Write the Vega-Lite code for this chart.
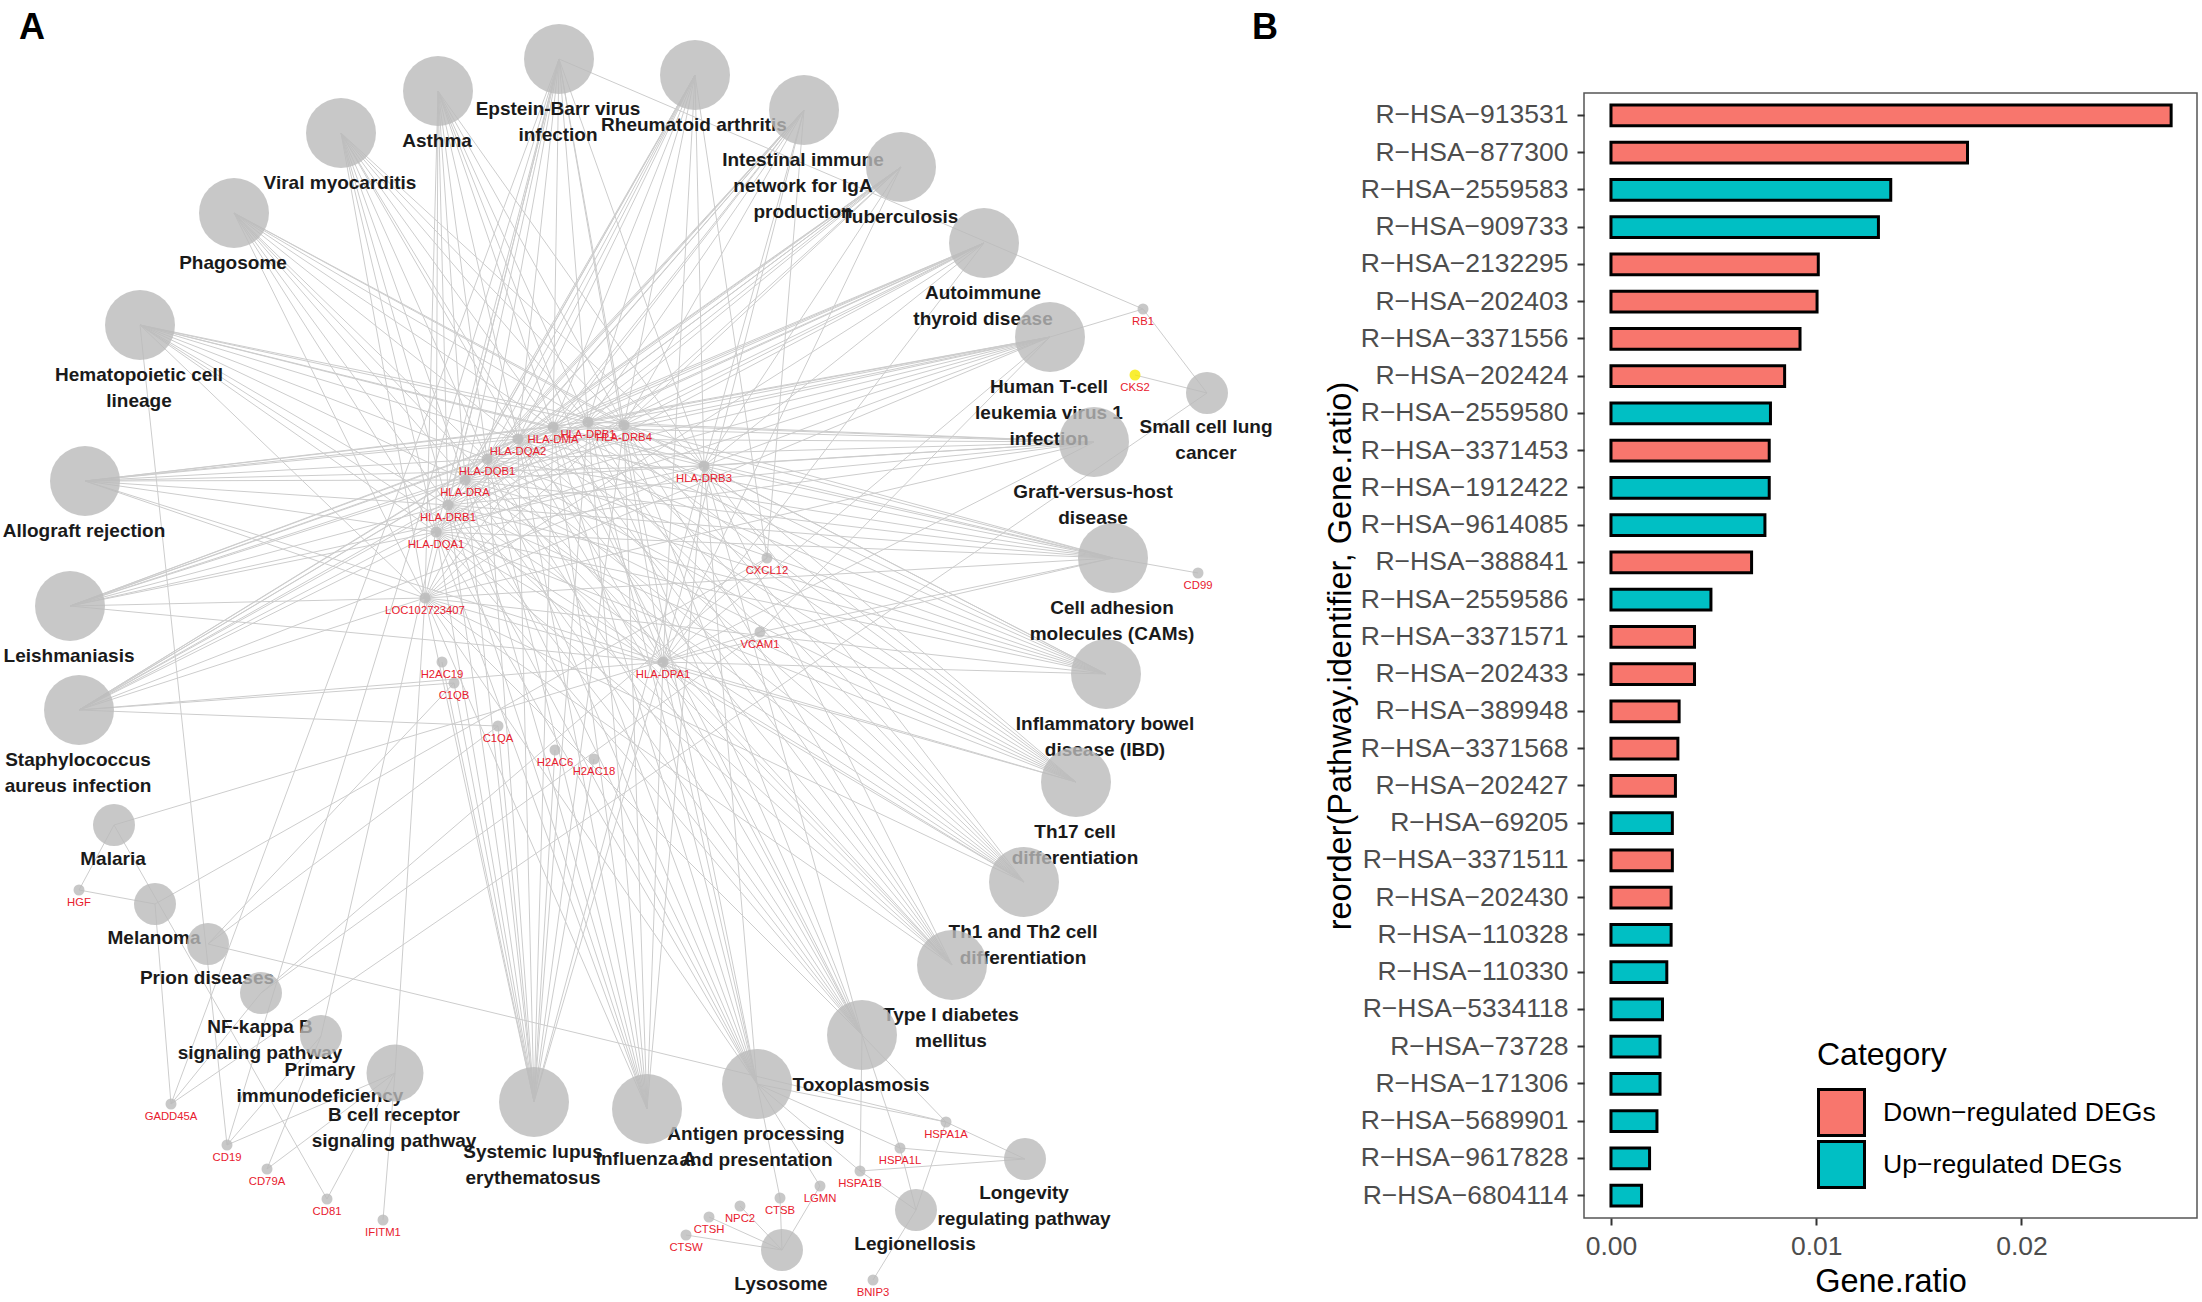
{"$schema":"https://vega.github.io/schema/vega-lite/v6.json","padding":0,"background":"white","bounds":"flush","spacing":334,
"config":{"font":"Liberation Sans","view":{"stroke":null}},
"datasets":{
"nodes":[
{"id":"EBV","label":"Epstein-Barr virus\ninfection","x":559,"y":59,"kind":"big","state":"n"},
{"id":"RA","label":"Rheumatoid arthritis","x":695,"y":75,"kind":"big","state":"n"},
{"id":"Asthma","label":"Asthma","x":438,"y":91,"kind":"big","state":"n"},
{"id":"IgA","label":"Intestinal immune\nnetwork for IgA\nproduction","x":804,"y":110,"kind":"big","state":"n"},
{"id":"Viral","label":"Viral myocarditis","x":341,"y":133,"kind":"big","state":"n"},
{"id":"TB","label":"Tuberculosis","x":901,"y":167,"kind":"big","state":"n"},
{"id":"Phago","label":"Phagosome","x":234,"y":213,"kind":"big","state":"n"},
{"id":"AITD","label":"Autoimmune\nthyroid disease","x":984,"y":243,"kind":"big","state":"n"},
{"id":"Hema","label":"Hematopoietic cell\nlineage","x":140,"y":325,"kind":"big","state":"n"},
{"id":"HTLV","label":"Human T-cell\nleukemia virus 1\ninfection","x":1050,"y":337,"kind":"big","state":"n"},
{"id":"SCLC","label":"Small cell lung\ncancer","x":1207,"y":393,"kind":"small","state":"n"},
{"id":"GVHD","label":"Graft-versus-host\ndisease","x":1094,"y":442,"kind":"big","state":"n"},
{"id":"Allo","label":"Allograft rejection","x":85,"y":481,"kind":"big","state":"n"},
{"id":"CAM","label":"Cell adhesion\nmolecules (CAMs)","x":1113,"y":558,"kind":"big","state":"n"},
{"id":"Leish","label":"Leishmaniasis","x":70,"y":606,"kind":"big","state":"n"},
{"id":"Staph","label":"Staphylococcus\naureus infection","x":79,"y":710,"kind":"big","state":"n"},
{"id":"IBD","label":"Inflammatory bowel\ndisease (IBD)","x":1106,"y":674,"kind":"big","state":"n"},
{"id":"Th17","label":"Th17 cell\ndifferentiation","x":1076,"y":782,"kind":"big","state":"n"},
{"id":"Th1","label":"Th1 and Th2 cell\ndifferentiation","x":1024,"y":882,"kind":"big","state":"n"},
{"id":"T1D","label":"Type I diabetes\nmellitus","x":952,"y":965,"kind":"big","state":"n"},
{"id":"Toxo","label":"Toxoplasmosis","x":862,"y":1035,"kind":"big","state":"n"},
{"id":"APP","label":"Antigen processing\nand presentation","x":757,"y":1084,"kind":"big","state":"n"},
{"id":"Flu","label":"Influenza A","x":647,"y":1109,"kind":"big","state":"n"},
{"id":"SLE","label":"Systemic lupus\nerythematosus","x":534,"y":1102,"kind":"big","state":"n"},
{"id":"BCR","label":"B cell receptor\nsignaling pathway","x":395,"y":1073,"kind":"mid","state":"n"},
{"id":"PID","label":"Primary\nimmunodeficiency","x":321,"y":1036,"kind":"small","state":"n"},
{"id":"NFkB","label":"NF-kappa B\nsignaling pathway","x":261,"y":993,"kind":"small","state":"n"},
{"id":"Prion","label":"Prion diseases","x":208,"y":944,"kind":"small","state":"n"},
{"id":"Melanoma","label":"Melanoma","x":155,"y":904,"kind":"small","state":"n"},
{"id":"Malaria","label":"Malaria","x":114,"y":825,"kind":"small","state":"n"},
{"id":"Longevity","label":"Longevity\nregulating pathway","x":1025,"y":1159,"kind":"small","state":"n"},
{"id":"Legion","label":"Legionellosis","x":916,"y":1210,"kind":"small","state":"n"},
{"id":"Lyso","label":"Lysosome","x":782,"y":1250,"kind":"small","state":"n"},
{"id":"HLA-DPB1","label":"HLA-DPB1","x":588,"y":422,"kind":"gene","state":"n"},
{"id":"HLA-DRB4","label":"HLA-DRB4","x":624,"y":425,"kind":"gene","state":"n"},
{"id":"HLA-DMA","label":"HLA-DMA","x":553,"y":427,"kind":"gene","state":"n"},
{"id":"HLA-DQA2","label":"HLA-DQA2","x":518,"y":439,"kind":"gene","state":"n"},
{"id":"HLA-DQB1","label":"HLA-DQB1","x":487,"y":459,"kind":"gene","state":"n"},
{"id":"HLA-DRA","label":"HLA-DRA","x":465,"y":480,"kind":"gene","state":"n"},
{"id":"HLA-DRB1","label":"HLA-DRB1","x":448,"y":505,"kind":"gene","state":"n"},
{"id":"HLA-DQA1","label":"HLA-DQA1","x":436,"y":532,"kind":"gene","state":"n"},
{"id":"HLA-DRB3","label":"HLA-DRB3","x":704,"y":466,"kind":"gene","state":"n"},
{"id":"CXCL12","label":"CXCL12","x":767,"y":558,"kind":"gene","state":"n"},
{"id":"LOC102723407","label":"LOC102723407","x":425,"y":598,"kind":"gene","state":"n"},
{"id":"VCAM1","label":"VCAM1","x":760,"y":632,"kind":"gene","state":"n"},
{"id":"HLA-DPA1","label":"HLA-DPA1","x":663,"y":662,"kind":"gene","state":"n"},
{"id":"H2AC19","label":"H2AC19","x":442,"y":662,"kind":"gene","state":"n"},
{"id":"C1QB","label":"C1QB","x":454,"y":683,"kind":"gene","state":"n"},
{"id":"C1QA","label":"C1QA","x":498,"y":726,"kind":"gene","state":"n"},
{"id":"H2AC6","label":"H2AC6","x":555,"y":750,"kind":"gene","state":"n"},
{"id":"H2AC18","label":"H2AC18","x":594,"y":759,"kind":"gene","state":"n"},
{"id":"RB1","label":"RB1","x":1143,"y":309,"kind":"gene","state":"n"},
{"id":"CKS2","label":"CKS2","x":1135,"y":375,"kind":"gene","state":"h"},
{"id":"CD99","label":"CD99","x":1198,"y":573,"kind":"gene","state":"n"},
{"id":"HGF","label":"HGF","x":79,"y":890,"kind":"gene","state":"n"},
{"id":"GADD45A","label":"GADD45A","x":171,"y":1104,"kind":"gene","state":"n"},
{"id":"CD19","label":"CD19","x":227,"y":1145,"kind":"gene","state":"n"},
{"id":"CD79A","label":"CD79A","x":267,"y":1169,"kind":"gene","state":"n"},
{"id":"CD81","label":"CD81","x":327,"y":1199,"kind":"gene","state":"n"},
{"id":"IFITM1","label":"IFITM1","x":383,"y":1220,"kind":"gene","state":"n"},
{"id":"HSPA1A","label":"HSPA1A","x":946,"y":1122,"kind":"gene","state":"n"},
{"id":"HSPA1L","label":"HSPA1L","x":900,"y":1148,"kind":"gene","state":"n"},
{"id":"HSPA1B","label":"HSPA1B","x":860,"y":1171,"kind":"gene","state":"n"},
{"id":"LGMN","label":"LGMN","x":820,"y":1186,"kind":"gene","state":"n"},
{"id":"CTSB","label":"CTSB","x":780,"y":1198,"kind":"gene","state":"n"},
{"id":"NPC2","label":"NPC2","x":740,"y":1206,"kind":"gene","state":"n"},
{"id":"CTSH","label":"CTSH","x":709,"y":1217,"kind":"gene","state":"n"},
{"id":"CTSW","label":"CTSW","x":686,"y":1235,"kind":"gene","state":"n"},
{"id":"BNIP3","label":"BNIP3","x":873,"y":1280,"kind":"gene","state":"n"}
],
"edges":[
{"p":"EBV","g":["HLA-DMA","HLA-DPA1","HLA-DPB1","HLA-DQA1","HLA-DQA2","HLA-DQB1","HLA-DRA","HLA-DRB1","HLA-DRB3","HLA-DRB4","LOC102723407","RB1","GADD45A","CD19"]},
{"p":"RA","g":["HLA-DMA","HLA-DPA1","HLA-DPB1","HLA-DQA1","HLA-DQA2","HLA-DQB1","HLA-DRA","HLA-DRB1","HLA-DRB3","HLA-DRB4","LOC102723407","CXCL12"]},
{"p":"Asthma","g":["HLA-DMA","HLA-DPA1","HLA-DPB1","HLA-DQA1","HLA-DQA2","HLA-DQB1","HLA-DRA","HLA-DRB1","HLA-DRB3","HLA-DRB4","LOC102723407"]},
{"p":"IgA","g":["HLA-DMA","HLA-DPA1","HLA-DPB1","HLA-DQA1","HLA-DQA2","HLA-DQB1","HLA-DRA","HLA-DRB1","HLA-DRB3","HLA-DRB4","LOC102723407","CXCL12"]},
{"p":"Viral","g":["HLA-DMA","HLA-DPA1","HLA-DPB1","HLA-DQA1","HLA-DQA2","HLA-DQB1","HLA-DRA","HLA-DRB1","HLA-DRB3","HLA-DRB4","LOC102723407"]},
{"p":"TB","g":["HLA-DMA","HLA-DPA1","HLA-DPB1","HLA-DQA1","HLA-DQA2","HLA-DQB1","HLA-DRA","HLA-DRB1","HLA-DRB3","HLA-DRB4","LOC102723407"]},
{"p":"Phago","g":["HLA-DMA","HLA-DPA1","HLA-DPB1","HLA-DQA1","HLA-DQA2","HLA-DQB1","HLA-DRA","HLA-DRB1","HLA-DRB3","HLA-DRB4","LOC102723407"]},
{"p":"AITD","g":["HLA-DMA","HLA-DPA1","HLA-DPB1","HLA-DQA1","HLA-DQA2","HLA-DQB1","HLA-DRA","HLA-DRB1","HLA-DRB3","HLA-DRB4","LOC102723407"]},
{"p":"Hema","g":["HLA-DMA","HLA-DPA1","HLA-DPB1","HLA-DQA1","HLA-DQA2","HLA-DQB1","HLA-DRA","HLA-DRB1","HLA-DRB3","HLA-DRB4","LOC102723407","CD19"]},
{"p":"HTLV","g":["HLA-DMA","HLA-DPA1","HLA-DPB1","HLA-DQA1","HLA-DQA2","HLA-DQB1","HLA-DRA","HLA-DRB1","HLA-DRB3","HLA-DRB4","LOC102723407","RB1","VCAM1"]},
{"p":"GVHD","g":["HLA-DMA","HLA-DPA1","HLA-DPB1","HLA-DQA1","HLA-DQA2","HLA-DQB1","HLA-DRA","HLA-DRB1","HLA-DRB3","HLA-DRB4","LOC102723407"]},
{"p":"Allo","g":["HLA-DMA","HLA-DPA1","HLA-DPB1","HLA-DQA1","HLA-DQA2","HLA-DQB1","HLA-DRA","HLA-DRB1","HLA-DRB3","HLA-DRB4","LOC102723407"]},
{"p":"CAM","g":["HLA-DMA","HLA-DPA1","HLA-DPB1","HLA-DQA1","HLA-DQA2","HLA-DQB1","HLA-DRA","HLA-DRB1","HLA-DRB3","HLA-DRB4","LOC102723407","VCAM1","CD99"]},
{"p":"Leish","g":["HLA-DMA","HLA-DPA1","HLA-DPB1","HLA-DQA1","HLA-DQA2","HLA-DQB1","HLA-DRA","HLA-DRB1","HLA-DRB3","HLA-DRB4","LOC102723407"]},
{"p":"Staph","g":["HLA-DMA","HLA-DPA1","HLA-DPB1","HLA-DQA1","HLA-DQA2","HLA-DQB1","HLA-DRA","HLA-DRB1","HLA-DRB3","HLA-DRB4","LOC102723407","C1QA","C1QB"]},
{"p":"IBD","g":["HLA-DMA","HLA-DPA1","HLA-DPB1","HLA-DQA1","HLA-DQA2","HLA-DQB1","HLA-DRA","HLA-DRB1","HLA-DRB3","HLA-DRB4","LOC102723407"]},
{"p":"Th17","g":["HLA-DMA","HLA-DPA1","HLA-DPB1","HLA-DQA1","HLA-DQA2","HLA-DQB1","HLA-DRA","HLA-DRB1","HLA-DRB3","HLA-DRB4","LOC102723407"]},
{"p":"Th1","g":["HLA-DMA","HLA-DPA1","HLA-DPB1","HLA-DQA1","HLA-DQA2","HLA-DQB1","HLA-DRA","HLA-DRB1","HLA-DRB3","HLA-DRB4","LOC102723407"]},
{"p":"T1D","g":["HLA-DMA","HLA-DPA1","HLA-DPB1","HLA-DQA1","HLA-DQA2","HLA-DQB1","HLA-DRA","HLA-DRB1","HLA-DRB3","HLA-DRB4","LOC102723407"]},
{"p":"Toxo","g":["HLA-DMA","HLA-DPA1","HLA-DPB1","HLA-DQA1","HLA-DQA2","HLA-DQB1","HLA-DRA","HLA-DRB1","HLA-DRB3","HLA-DRB4","LOC102723407","HSPA1A","HSPA1L","HSPA1B"]},
{"p":"APP","g":["HLA-DMA","HLA-DPA1","HLA-DPB1","HLA-DQA1","HLA-DQA2","HLA-DQB1","HLA-DRA","HLA-DRB1","HLA-DRB3","HLA-DRB4","LOC102723407","HSPA1A","HSPA1L","HSPA1B","CTSB","LGMN"]},
{"p":"Flu","g":["HLA-DMA","HLA-DPA1","HLA-DPB1","HLA-DQA1","HLA-DQA2","HLA-DQB1","HLA-DRA","HLA-DRB1","HLA-DRB3","HLA-DRB4","LOC102723407"]},
{"p":"SLE","g":["HLA-DMA","HLA-DPA1","HLA-DPB1","HLA-DQA1","HLA-DQA2","HLA-DQB1","HLA-DRA","HLA-DRB1","HLA-DRB3","HLA-DRB4","LOC102723407","H2AC6","H2AC18","H2AC19","C1QA","C1QB"]},
{"p":"SCLC","g":["RB1","CKS2","GADD45A"]},
{"p":"BCR","g":["CD19","CD79A","CD81","IFITM1","LOC102723407"]},
{"p":"PID","g":["CD19","CD79A","HLA-DQA1"]},
{"p":"NFkB","g":["GADD45A","CXCL12","VCAM1"]},
{"p":"Prion","g":["C1QA","C1QB","HSPA1A"]},
{"p":"Melanoma","g":["HGF","GADD45A","CXCL12"]},
{"p":"Malaria","g":["HGF","VCAM1","CD81"]},
{"p":"Longevity","g":["HSPA1A","HSPA1L","HSPA1B"]},
{"p":"Legion","g":["HSPA1A","HSPA1L","HSPA1B","BNIP3"]},
{"p":"Lyso","g":["CTSB","CTSH","CTSW","NPC2","LGMN"]}
],
"bars":[
{"id":"R−HSA−913531","ratio":0.02729,"cat":"Down−regulated DEGs"},
{"id":"R−HSA−877300","ratio":0.01737,"cat":"Down−regulated DEGs"},
{"id":"R−HSA−2559583","ratio":0.01363,"cat":"Up−regulated DEGs"},
{"id":"R−HSA−909733","ratio":0.01303,"cat":"Up−regulated DEGs"},
{"id":"R−HSA−2132295","ratio":0.0101,"cat":"Down−regulated DEGs"},
{"id":"R−HSA−202403","ratio":0.01004,"cat":"Down−regulated DEGs"},
{"id":"R−HSA−3371556","ratio":0.00921,"cat":"Down−regulated DEGs"},
{"id":"R−HSA−202424","ratio":0.00846,"cat":"Down−regulated DEGs"},
{"id":"R−HSA−2559580","ratio":0.00777,"cat":"Up−regulated DEGs"},
{"id":"R−HSA−3371453","ratio":0.00771,"cat":"Down−regulated DEGs"},
{"id":"R−HSA−1912422","ratio":0.00771,"cat":"Up−regulated DEGs"},
{"id":"R−HSA−9614085","ratio":0.0075,"cat":"Up−regulated DEGs"},
{"id":"R−HSA−388841","ratio":0.00685,"cat":"Down−regulated DEGs"},
{"id":"R−HSA−2559586","ratio":0.00487,"cat":"Up−regulated DEGs"},
{"id":"R−HSA−3371571","ratio":0.00407,"cat":"Down−regulated DEGs"},
{"id":"R−HSA−202433","ratio":0.00407,"cat":"Down−regulated DEGs"},
{"id":"R−HSA−389948","ratio":0.00332,"cat":"Down−regulated DEGs"},
{"id":"R−HSA−3371568","ratio":0.00326,"cat":"Down−regulated DEGs"},
{"id":"R−HSA−202427","ratio":0.00314,"cat":"Down−regulated DEGs"},
{"id":"R−HSA−69205","ratio":0.00299,"cat":"Up−regulated DEGs"},
{"id":"R−HSA−3371511","ratio":0.00299,"cat":"Down−regulated DEGs"},
{"id":"R−HSA−202430","ratio":0.00293,"cat":"Down−regulated DEGs"},
{"id":"R−HSA−110328","ratio":0.00293,"cat":"Up−regulated DEGs"},
{"id":"R−HSA−110330","ratio":0.00272,"cat":"Up−regulated DEGs"},
{"id":"R−HSA−5334118","ratio":0.00251,"cat":"Up−regulated DEGs"},
{"id":"R−HSA−73728","ratio":0.00239,"cat":"Up−regulated DEGs"},
{"id":"R−HSA−171306","ratio":0.00239,"cat":"Up−regulated DEGs"},
{"id":"R−HSA−5689901","ratio":0.00224,"cat":"Up−regulated DEGs"},
{"id":"R−HSA−9617828","ratio":0.00188,"cat":"Up−regulated DEGs"},
{"id":"R−HSA−6804114","ratio":0.00149,"cat":"Up−regulated DEGs"}
]},
"hconcat":[
{"width":1250,"height":1302,
"encoding":{
"x":{"field":"x","type":"quantitative","axis":null,"scale":{"domain":[0,1250],"nice":false,"zero":false}},
"y":{"field":"y","type":"quantitative","axis":null,"scale":{"domain":[1302,0],"nice":false,"zero":false}}},
"layer":[
{"data":{"name":"edges"},
"transform":[{"flatten":["g"]},
{"lookup":"p","from":{"data":{"name":"nodes"},"key":"id","fields":["x","y"]},"as":["x1","y1"]},
{"lookup":"g","from":{"data":{"name":"nodes"},"key":"id","fields":["x","y"]},"as":["x2","y2"]}],
"mark":{"type":"rule","color":"#CDCDCD","strokeWidth":1},
"encoding":{"x":{"field":"x1","type":"quantitative"},"y":{"field":"y1","type":"quantitative"},"x2":{"field":"x2"},"y2":{"field":"y2"}}},
{"data":{"name":"nodes"},"transform":[{"filter":"datum.kind==='big'"}],
"mark":{"type":"text","font":"Liberation Sans","fontWeight":"bold","fontSize":19,"color":"#1A1A1A","baseline":"top","align":"center","dx":-1,"dy":41,"lineBreak":"\n","lineHeight":26},
"encoding":{"text":{"field":"label"}}},
{"data":{"name":"nodes"},"transform":[{"filter":"datum.kind==='mid'"}],
"mark":{"type":"text","font":"Liberation Sans","fontWeight":"bold","fontSize":19,"color":"#1A1A1A","baseline":"top","align":"center","dx":-1,"dy":33,"lineBreak":"\n","lineHeight":26},
"encoding":{"text":{"field":"label"}}},
{"data":{"name":"nodes"},"transform":[{"filter":"datum.kind==='small'"}],
"mark":{"type":"text","font":"Liberation Sans","fontWeight":"bold","fontSize":19,"color":"#1A1A1A","baseline":"top","align":"center","dx":-1,"dy":25,"lineBreak":"\n","lineHeight":26},
"encoding":{"text":{"field":"label"}}},
{"data":{"name":"nodes"},"transform":[{"filter":"datum.kind==='gene'"}],
"mark":{"type":"text","font":"Liberation Sans","fontSize":11.3,"color":"#E8202E","baseline":"middle","align":"center","dy":13},
"encoding":{"text":{"field":"label"}}},
{"data":{"name":"nodes"},
"mark":{"type":"circle","opacity":0.8},
"encoding":{
"color":{"field":"state","type":"nominal","legend":null,"scale":{"domain":["n","h"],"range":["#BABABA","#F7EA00"]}},
"size":{"field":"kind","type":"nominal","legend":null,"scale":{"type":"ordinal","domain":["big","mid","small","gene"],"range":[4900,3249,1764,121]}}}},
{"data":{"values":[{"panel":"A","x":19,"y":28}]},
"mark":{"type":"text","font":"Liberation Sans","fontWeight":"bold","fontSize":36,"color":"black","align":"left","baseline":"middle"},
"encoding":{"text":{"field":"panel"}}}
]},
{"bounds":"flush","spacing":0,"vconcat":[
{"width":613,"height":93,
"data":{"values":[{"panel":"B","x":1252,"y":28}]},
"mark":{"type":"text","font":"Liberation Sans","fontWeight":"bold","fontSize":36,"color":"black","align":"left","baseline":"middle"},
"encoding":{
"x":{"field":"x","type":"quantitative","axis":null,"scale":{"domain":[1584,2197],"nice":false,"zero":false}},
"y":{"field":"y","type":"quantitative","axis":null,"scale":{"domain":[93,0],"nice":false,"zero":false}},
"text":{"field":"panel"}}},
{"width":613,"height":1125,
"view":{"stroke":"#555555","strokeWidth":1.5},
"data":{"name":"bars"},
"mark":{"type":"bar","stroke":"black","strokeWidth":3},
"encoding":{
"x":{"field":"ratio","type":"quantitative","scale":{"domain":[-0.001314,0.02855],"nice":false,"zero":false},
"axis":{"title":"Gene.ratio","values":[0,0.01,0.02],"format":".2f","grid":false,"domain":false,"tickSize":7,"tickWidth":2,"tickColor":"#333333","labelFontSize":26.5,"labelColor":"#4D4D4D","labelPadding":8,"titleFontSize":32.5,"titleFontWeight":"normal","titleColor":"black","titlePadding":6}},
"y":{"field":"id","type":"nominal","sort":null,"scale":{"paddingInner":0.44,"paddingOuter":0.32},
"axis":{"title":"reorder(Pathway.identifier, Gene.ratio)","grid":false,"domain":false,"tickSize":7,"tickWidth":2,"tickColor":"#333333","labelFontSize":26.5,"labelColor":"#4D4D4D","labelPadding":9,"labelLimit":400,"labelBound":false,"labelOverlap":false,"titleFontSize":32.5,"titleFontWeight":"normal","titleColor":"black","titlePadding":27}},
"fill":{"field":"cat","type":"nominal","scale":{"domain":["Down−regulated DEGs","Up−regulated DEGs"],"range":["#F8766D","#00BFC4"]},
"legend":{"title":"Category","orient":"none","legendX":1817,"legendY":1040,"titleFontSize":32,"titleFontWeight":"normal","titleColor":"black","titlePadding":15,"labelFontSize":26.6,"labelColor":"black","labelOffset":17,"labelLimit":400,"symbolType":"square","symbolSize":2116,"symbolStrokeColor":"black","symbolStrokeWidth":3,"rowPadding":1,"clipHeight":51,"symbolOpacity":1,"padding":0}}}}
]}
]}
